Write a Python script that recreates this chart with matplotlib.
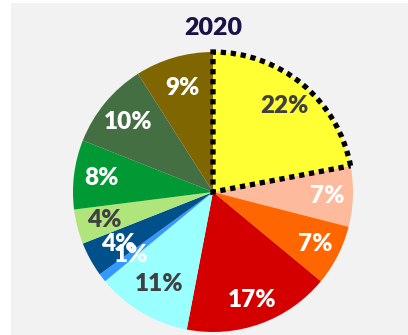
import numpy as np
import matplotlib.pyplot as plt
from matplotlib.patches import Rectangle

# Share of total by category, 2020 (clockwise from 12 o'clock)
shares = [22, 7, 7, 17, 11, 1, 4, 4, 8, 10, 9]
labels = ["22%", "7%", "7%", "17%", "11%", "1%", "4%", "4%", "8%", "10%", "9%"]
colors = ["#FFFF33", "#FDBA9C", "#FF6600", "#D40000", "#99FFFF", "#3399FF",
          "#00508C", "#B0E57C", "#009933", "#436F43", "#7F6600"]
label_colors = ["#404040", "white", "white", "white", "#404040", "white",
                "white", "#404040", "white", "white", "white"]
title = "2020"

W, H = 408, 335
fig = plt.figure(figsize=(W / 100, H / 100), dpi=100, facecolor="white")
fig.patches.append(Rectangle((11 / W, 0), 1 - 11 / W, 1 - 3 / H,
                             transform=fig.transFigure, facecolor="#F2F2F2",
                             edgecolor="none", zorder=-10))

cx, cy, r = 213, 192, 140
ax = fig.add_axes([(cx - r) / W, (H - cy - r) / H, 2 * r / W, 2 * r / H])
ax.set_axis_off()

wedges, _ = ax.pie(shares, colors=colors, startangle=90, counterclock=False,
                   radius=1.0, wedgeprops=dict(linewidth=0))
ax.set_xlim(-1, 1)
ax.set_ylim(-1, 1)
ax.set_aspect("equal")

# dotted outline on the leading slice
hl = wedges[0]
hl.set_edgecolor("black")
hl.set_linewidth(3.8)
hl.set_linestyle((0, (1.0, 0.9)))
hl.set_zorder(5)
hl.set_clip_on(False)

dist = [0.80, 0.82, 0.82, 0.82, 0.76, 0.74, 0.77, 0.80, 0.80, 0.79, 0.77]
for w, lab, col, d in zip(wedges, labels, label_colors, dist):
    ang = np.deg2rad((w.theta1 + w.theta2) / 2)
    ax.text(d * np.cos(ang), d * np.sin(ang), lab, ha="center", va="center",
            color=col, fontsize=17.5, fontweight="heavy", family="Lato", zorder=6)

fig.text(cx / W, 1 - 28 / H, title, ha="center", va="center", fontsize=18,
         fontweight="heavy", color="#1A1446", family="Lato")

fig.savefig("out.png", dpi=100, facecolor=fig.get_facecolor())
